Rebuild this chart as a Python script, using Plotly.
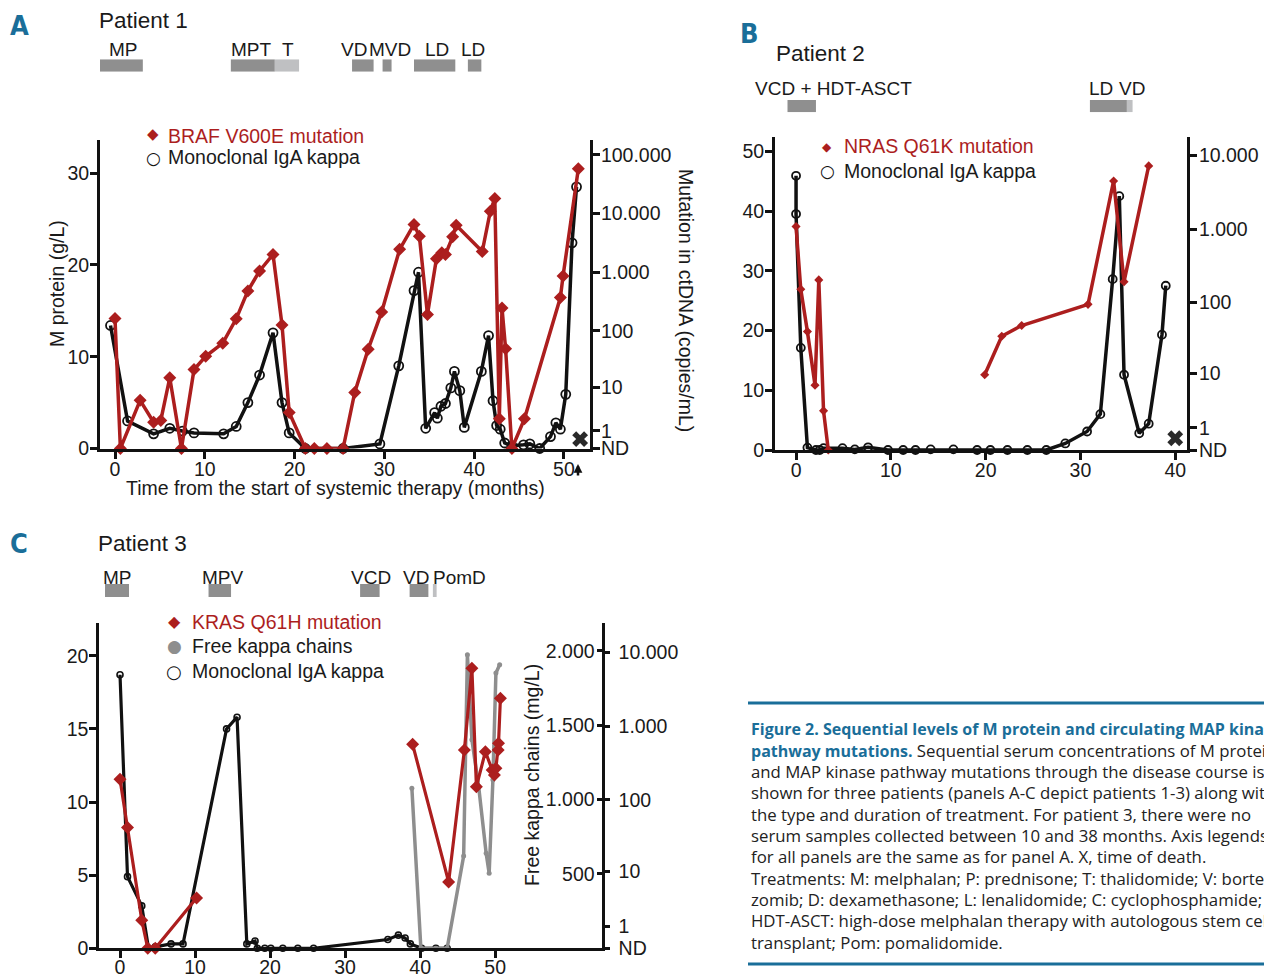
import numpy as np
import plotly.graph_objects as go

W, H = 1264, 975
RED = "#ac1e1e"
BLACK = "#111111"
GREY = "#8e8e8e"
BAR_DARK = "#8f8f8f"
BAR_LIGHT = "#bfc0c2"
BLUE = "#1a6e99"
FONT = "Liberation Sans, Arial, sans-serif"
TXT = "#1a1a1a"

# ---------------- Panel A (Patient 1) ----------------
a_igA_month = [-0.5, 1.4, 4.3, 6.1, 7.5, 8.8, 12.1, 13.5, 14.8, 16.1, 17.6, 18.6, 19.4, 21.2, 25.4,
               29.5, 31.6, 33.3, 33.8, 34.6, 35.6, 35.9, 36.3, 36.8, 37.4, 37.8, 38.4, 38.9, 40.8, 41.6,
               42.1, 42.5, 42.9, 43.4, 44.2, 45.5, 46.2, 47.3, 48.5, 49.1, 49.6, 50.2, 50.9, 51.4]
a_igA_value = [13.4, 3.0, 1.6, 2.2, 1.9, 1.7, 1.6, 2.4, 5.0, 8.0, 12.6, 5.0, 1.7, 0, 0,
               0.5, 9.0, 17.2, 19.2, 2.2, 3.9, 3.3, 4.6, 4.9, 6.6, 8.4, 6.3, 2.3, 8.4, 12.3,
               5.2, 2.5, 2.1, 0.6, 0.3, 0.4, 0.5, 0, 1.3, 2.8, 2.1, 5.9, 22.4, 28.5]
a_mut_month = [0, 0.6, 2.8, 4.3, 5.1, 6.1, 7.4, 8.8, 10.1, 12.0, 13.5, 14.8, 16.1, 17.6, 18.6,
               19.4, 21.2, 22.2, 23.6, 25.4, 26.7, 28.2, 29.7, 31.7, 33.3, 33.9, 34.8, 35.8, 36.4, 36.8,
               37.6, 38.0, 40.9, 41.8, 42.3, 42.8, 43.1, 43.5, 44.2, 45.6, 49.6, 49.9, 51.6]
a_mut_copies = [162, 0, 5.6, 1.8, 2.0, 15, 0, 21, 36, 61, 160, 480, 1050, 2000, 126,
                3.1, 0, 0, 0, 0, 8, 48, 210, 2450, 6500, 4100, 190, 1700, 2150, 2000,
                4000, 6300, 2250, 10900, 18000, 2.2, 246, 49, 0, 2.2, 370, 860, 57600]
a_death_month = [51.8]
a_tx_start = [-2.1, 12.9, 17.8, 26.4, 29.8, 33.3, 39.3]
a_tx_end = [3.1, 17.8, 20.5, 28.8, 30.8, 37.9, 40.8]
a_tx_light = [False, False, True, False, False, False, False]
a_tx_labels = ["MP", "MPT", "T", "VD", "MVD", "LD", "LD"]
a_tx_label_month = [0.95, 15.2, 19.3, 26.6, 30.6, 35.9, 39.9]
a_left_ticks = [0, 10, 20, 30]
a_x_ticks = [0, 10, 20, 30, 40, 50]
a_mut_ticks = [0, 1, 10, 100, 1000, 10000, 100000]
a_mut_ticktext = ["ND", "1", "10", "100", "1.000", "10.000", "100.000"]

# ---------------- Panel B (Patient 2) ----------------
b_igA_month = [0, 0, 0.5, 1.2, 2.1, 2.5, 2.9, 4.9, 6.2, 7.6, 9.7, 11.3, 12.6, 14.2, 16.6,
               19.1, 20.5, 22.3, 24.4, 26.4, 28.4, 30.7, 32.1, 33.4, 34.1, 34.6, 36.2, 37.2, 38.6, 39.0]
b_igA_value = [45.9, 39.5, 17.1, 0.4, 0, 0, 0.3, 0.3, 0.1, 0.45, 0, 0, 0, 0.1, 0.1,
               0, 0, 0, 0, 0, 1.1, 3.1, 6.0, 28.6, 42.5, 12.6, 2.8, 4.4, 19.3, 27.5]
b_mut_month = [0, 0.5, 1.2, 2.0, 2.4, 2.9, 3.4, None, 19.9, 21.7, 23.8, 30.8, 33.5, 34.6, 37.2]
b_mut_copies = [1080, 151, 39.5, 6.6, 203, 2.4, 0, None, 9.5, 34, 48, 94, 4500, 192, 7200]
b_death_month = [40.0]
b_tx_start = [-0.9, 31.0, 34.9]
b_tx_end = [2.1, 34.9, 35.5]
b_tx_light = [False, False, True]
b_tx_labels = ["VCD + HDT-ASCT", "LD", "VD"]
b_tx_label_month = [3.9, 32.2, 35.4]
b_left_ticks = [0, 10, 20, 30, 40, 50]
b_x_ticks = [0, 10, 20, 30, 40]
b_mut_ticks = [0, 1, 10, 100, 1000, 10000]
b_mut_ticktext = ["ND", "1", "10", "100", "1.000", "10.000"]

# ---------------- Panel C (Patient 3) ----------------
c_igA_month = [0, 1.0, 2.9, 3.8, 4.7, 6.8, 8.4, 14.2, 15.6, 16.9, 18.0, 18.3, 19.3, 20.1, 21.7,
               23.7, 25.8, 35.7, 37.1, 38.0, 38.7, 40.2, 42.1, 43.6]
c_igA_value = [18.7, 4.9, 2.9, 0, 0.1, 0.3, 0.3, 15.0, 15.8, 0.3, 0.5, 0, 0, 0, 0,
               0, 0, 0.6, 0.9, 0.7, 0.3, 0, 0, 0]
c_mut_month = [0, 1.0, 2.9, 3.7, 4.7, 10.2, None, 39.0, 43.8, 45.9, 46.9, 47.5, 48.7, 49.6, 49.9,
               50.1, 50.4, 50.45, 50.7]
c_mut_copies = [191, 42, 1.4, 0, 0, 3.8, None, 570, 6.9, 478, 6080, 152, 453, 256, 219,
                270, 477, 588, 2390]
c_kappa_month = [38.9, 40.1, 42.1, 43.6, 45.8, 46.3, 46.9, 47.8, 48.8, 49.2, 49.7, 50.1, 50.6]
c_kappa_value = [1077, 0, 0, 0, 621, 1974, 1402, 1088, 639, 505, 1133, 1851, 1907]
c_tx_start = [-2.0, 11.8, 32.0, 38.6, 41.7]
c_tx_end = [1.2, 14.8, 34.6, 41.1, 42.2]
c_tx_light = [False, False, False, False, True]
c_tx_labels = ["MP", "MPV", "VCD", "VD", "PomD"]
c_tx_label_month = [-0.4, 13.7, 33.5, 39.5, 45.2]
c_left_ticks = [0, 5, 10, 15, 20]
c_x_ticks = [0, 10, 20, 30, 40, 50]
c_kappa_ticks = [500, 1000, 1500, 2000]
c_kappa_ticktext = ["500", "1.000", "1.500", "2.000"]
c_mut_ticks = [0, 1, 10, 100, 1000, 10000]
c_mut_ticktext = ["ND", "1", "10", "100", "1.000", "10.000"]

DEATH_LEVEL = 0.16  # just above ND on the transformed mutation axis

caption_lines = [
    "<b><span style='color:%s;font-size:16px'>Figure 2. Sequential levels of M protein and circulating MAP kinase</span></b>" % BLUE,
    "<b><span style='color:%s;font-size:16px'>pathway mutations.</span></b> Sequential serum concentrations of M protein" % BLUE,
    "and MAP kinase pathway mutations through the disease course is",
    "shown for three patients (panels A-C depict patients 1-3) along with",
    "the type and duration of treatment. For patient 3, there were no",
    "serum samples collected between 10 and 38 months. Axis legends",
    "for all panels are the same as for panel A. X, time of death.",
    "Treatments: M: melphalan; P: prednisone; T: thalidomide; V: borte-",
    "zomib; D: dexamethasone; L: lenalidomide; C: cyclophosphamide;",
    "HDT-ASCT: high-dose melphalan therapy with autologous stem cell",
    "transplant; Pom: pomalidomide.",
]


def tlog(vals):
    return [None if v is None else float(np.log10(v + 1)) for v in vals]


def px(x):
    return x / W


def py(y):
    return 1 - y / H


fig = go.Figure()


def line_trace(xs, ys, xa, ya, color, width, symbol, size, mline=0, mcolor=None):
    fig.add_trace(go.Scatter(
        x=xs, y=ys, xaxis=xa, yaxis=ya, mode="lines+markers",
        line=dict(color=color, width=width),
        marker=dict(symbol=symbol, size=size, color=mcolor or color,
                    line=dict(width=mline, color=color)),
        cliponaxis=False, connectgaps=False, showlegend=False, hoverinfo="skip"))


def tx_bars(starts, ends, light, xa, ya):
    fig.add_trace(go.Bar(
        orientation="h", y=[0] * len(starts), base=starts,
        x=[e - s for s, e in zip(starts, ends)], width=1,
        marker=dict(color=[BAR_LIGHT if l else BAR_DARK for l in light], line=dict(width=0)),
        xaxis=xa, yaxis=ya, showlegend=False, hoverinfo="skip"))


# Panel A traces
tx_bars(a_tx_start, a_tx_end, a_tx_light, "x", "y3")
line_trace(a_mut_month, tlog(a_mut_copies), "x", "y2", RED, 3.5, "diamond", 10)
line_trace(a_igA_month, a_igA_value, "x", "y", BLACK, 3.5, "circle-open", 9, mline=1.8)
fig.add_trace(go.Scatter(x=a_death_month, y=[DEATH_LEVEL], xaxis="x", yaxis="y2", mode="markers",
                         marker=dict(symbol="x", size=14, color="#2a2a2a", line=dict(width=0)),
                         cliponaxis=False, showlegend=False, hoverinfo="skip"))

# Panel B traces
tx_bars(b_tx_start, b_tx_end, b_tx_light, "x2", "y6")
line_trace(b_mut_month, tlog(b_mut_copies), "x2", "y5", RED, 3.5, "diamond", 7)
line_trace(b_igA_month, b_igA_value, "x2", "y4", BLACK, 3.5, "circle-open", 8, mline=1.8)
fig.add_trace(go.Scatter(x=b_death_month, y=[DEATH_LEVEL], xaxis="x2", yaxis="y5", mode="markers",
                         marker=dict(symbol="x", size=14, color="#2a2a2a", line=dict(width=0)),
                         cliponaxis=False, showlegend=False, hoverinfo="skip"))

# Panel C traces
tx_bars(c_tx_start, c_tx_end, c_tx_light, "x3", "y10")
line_trace(c_kappa_month, c_kappa_value, "x3", "y8", GREY, 3.5, "circle", 5)
line_trace(c_igA_month, c_igA_value, "x3", "y7", BLACK, 3.2, "circle-open", 6, mline=1.6)
line_trace(c_mut_month, tlog(c_mut_copies), "x3", "y9", RED, 3.2, "diamond", 10)

axis_common = dict(showline=True, linecolor=BLACK, linewidth=3, ticks="outside", ticklen=7,
                   tickwidth=2.5, tickcolor=BLACK, showgrid=False, zeroline=False, automargin=False,
                   tickfont=dict(family=FONT, size=19.5, color=TXT), fixedrange=True)
xaxis_common = {**axis_common, "ticklabelstandoff": -6}
yaxis_left = {**axis_common, "ticklabelstandoff": -3}
yaxis_right = {**axis_common, "ticklabelstandoff": -3}
hidden = dict(visible=False, range=[-0.5, 0.5], fixedrange=True, automargin=False)

layout = dict(
    width=W, height=H, margin=dict(l=0, r=0, t=0, b=0, autoexpand=False),
    paper_bgcolor="white", plot_bgcolor="rgba(0,0,0,0)",
    font=dict(family=FONT, color=TXT), showlegend=False, barmode="overlay",
    # Panel A
    xaxis=dict(domain=[px(100), px(590)], anchor="y", range=[-1.67, 52.9], tickvals=a_x_ticks, **xaxis_common),
    yaxis=dict(domain=[py(448.5), py(140)], anchor="x", range=[0, 33.6], tickvals=a_left_ticks, **yaxis_left),
    yaxis2=dict(overlaying="y", side="right", anchor="x", range=[0, 5.25],
                tickvals=tlog(a_mut_ticks), ticktext=a_mut_ticktext, **yaxis_right),
    yaxis3=dict(domain=[py(71.7), py(59.3)], anchor="x", **hidden),
    # Panel B
    xaxis2=dict(domain=[px(775), px(1187)], anchor="y4", range=[-2.22, 41.24], tickvals=b_x_ticks, **xaxis_common),
    yaxis4=dict(domain=[py(450), py(137)], anchor="x2", range=[0, 52.4], tickvals=b_left_ticks, **yaxis_left),
    yaxis5=dict(overlaying="y4", side="right", anchor="x2", range=[0, 4.25],
                tickvals=tlog(b_mut_ticks), ticktext=b_mut_ticktext, **{**axis_common, "ticklabelstandoff": -2}),
    yaxis6=dict(domain=[py(112.3), py(100)], anchor="x2", **hidden),
    # Panel C
    xaxis3=dict(domain=[px(99.3), px(601.7)], anchor="y7", range=[-2.76, 64.2], tickvals=c_x_ticks,
                **{**axis_common, "ticklabelstandoff": -8}),
    yaxis7=dict(domain=[py(948.3), py(622.7)], anchor="x3", range=[0, 22.26], tickvals=c_left_ticks, **yaxis_left),
    yaxis8=dict(overlaying="y7", side="right", anchor="x3", range=[0, 2190], tickvals=c_kappa_ticks,
                ticktext=c_kappa_ticktext, showline=False, ticks="inside", ticklen=5, tickwidth=2.5,
                tickcolor=BLACK, ticklabelposition="inside", ticklabelstandoff=3, showgrid=False,
                zeroline=False, automargin=False,
                tickfont=dict(family=FONT, size=19.5, color=TXT), fixedrange=True),
    yaxis9=dict(overlaying="y7", side="right", anchor="x3", range=[0, 4.4],
                tickvals=tlog(c_mut_ticks), ticktext=c_mut_ticktext,
                **{**axis_common, "ticklen": 5, "ticklabelstandoff": 5}),
    yaxis10=dict(domain=[py(597), py(584)], anchor="x3", **hidden),
)

ann = []


def text(x, y, s, size=19.5, color=TXT, xanchor="center", family=FONT, angle=0, xref="paper"):
    ann.append(dict(x=x if xref != "paper" else px(x), y=py(y), xref=xref, yref="paper", text=s,
                    showarrow=False, xanchor=xanchor, yanchor="middle", textangle=angle,
                    font=dict(size=size, color=color, family=family)))


LETTER_FONT = "Liberation Sans Narrow, DejaVu Sans Condensed, Arial Narrow, Liberation Sans, sans-serif"
# Panel letters and titles
text(19, 25, "<b>A</b>", size=27, color=BLUE, family=LETTER_FONT)
text(749, 33, "<b>B</b>", size=27, color=BLUE, family=LETTER_FONT)
text(19, 543, "<b>C</b>", size=27, color=BLUE, family=LETTER_FONT)
text(97, 20, "Patient 1", size=22.5, xanchor="left")
text(774, 54, "Patient 2", size=22.5, xanchor="left")
text(96, 543, "Patient 3", size=22.5, xanchor="left")

# Treatment labels
for lab, m in zip(a_tx_labels, a_tx_label_month):
    text(m, 49, lab, size=19, xref="x")
for lab, m in zip(b_tx_labels, b_tx_label_month):
    text(m, 88, lab, size=19, xref="x2")
for lab, m in zip(c_tx_labels, c_tx_label_month):
    text(m, 577, lab, size=19, xref="x3")

SYM = "DejaVu Sans, sans-serif"
# Legends
text(153, 134, "◆", size=15, color=RED, family=SYM)
text(166, 136, "BRAF V600E mutation", color=RED, xanchor="left")
text(153, 158, "○", size=17, color=BLACK, family=SYM)
text(166, 157, "Monoclonal IgA kappa", xanchor="left")

text(827, 147, "◆", size=12, color=RED, family=SYM)
text(842, 146, "NRAS Q61K mutation", color=RED, xanchor="left")
text(827, 171, "○", size=17, color=BLACK, family=SYM)
text(842, 171, "Monoclonal IgA kappa", xanchor="left")

text(175, 621, "◆", size=16, color=RED, family=SYM)
text(190, 622, "KRAS Q61H mutation", color=RED, xanchor="left")
text(174, 646, "●", size=17, color=GREY, family=SYM)
text(190, 646, "Free kappa chains", xanchor="left")
text(174, 671, "○", size=18, color=BLACK, family=SYM)
text(190, 671, "Monoclonal IgA kappa", xanchor="left")

# Axis titles
text(57, 284, "M protein (g/L)", angle=-90)
text(336, 488, "Time from the start of systemic therapy (months)")
text(686, 300, "Mutation in ctDNA (copies/mL)", angle=90)
text(532, 775, "Free kappa chains (mg/L)", angle=-90)

# Caption
cap_y0, cap_dy = 729, 21.3
for i, line in enumerate(caption_lines):
    text(749, cap_y0 + i * cap_dy, line, size=16.8, xanchor="left", family="Open Sans, sans-serif",
         color="#222222")

# arrow under 50 in panel A
ann.append(dict(x=px(578), y=py(464), xref="paper", yref="paper", ax=0, ay=13,
                axref="pixel", ayref="pixel", text="", showarrow=True, arrowhead=2,
                arrowsize=0.7, arrowwidth=2.5, arrowcolor=BLACK))

shapes = [
    dict(type="line", xref="paper", yref="paper", x0=px(748), x1=1, y0=py(703), y1=py(703),
         line=dict(color=BLUE, width=3)),
    dict(type="line", xref="paper", yref="paper", x0=px(748), x1=1, y0=py(964), y1=py(964),
         line=dict(color=BLUE, width=3)),
]

layout["annotations"] = ann
layout["shapes"] = shapes
fig.update_layout(**layout)
fig.write_html("out.html", config={"displayModeBar": False},
               post_script="document.body.style.margin='0px';document.body.style.overflow='hidden';")
